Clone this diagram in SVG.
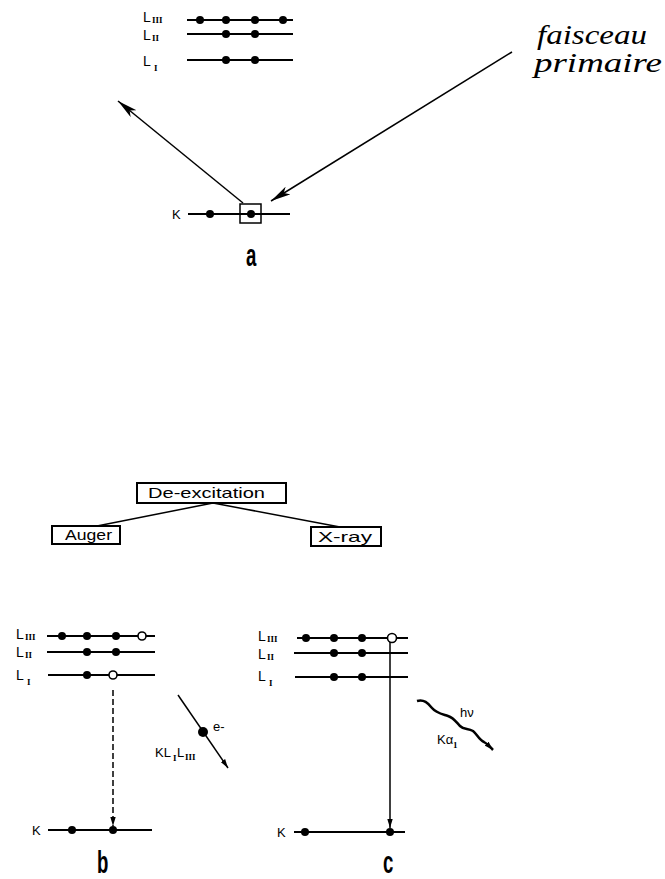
<svg xmlns="http://www.w3.org/2000/svg" width="665" height="879" viewBox="0 0 665 879">
<style>
.lv{stroke:#000;stroke-width:2;fill:none}
.dot{fill:#000}
.hole{fill:#fff;stroke:#000;stroke-width:1.6}
.lbl{font-family:"Liberation Sans",Arial,sans-serif;font-size:13px;fill:#000}
.L{font-family:"Liberation Sans",Arial,sans-serif;font-size:14px;fill:#000}
.sub{font-family:"Liberation Serif",serif;font-size:9px;fill:#000;font-weight:bold}
.big{font-family:"Liberation Sans",Arial,sans-serif;font-weight:bold;font-size:31px;fill:#000}
.box{fill:#fff;stroke:#000;stroke-width:2}
.btxt{font-family:"Liberation Sans",Arial,sans-serif;font-size:15px;fill:#000}
.hand{font-family:"Liberation Serif",serif;font-style:italic;font-size:28px;fill:#000}
.ln{stroke:#000;stroke-width:1.5;fill:none}
</style>
<defs>
<marker id="ah" viewBox="0 0 20 9" refX="20" refY="4.5" markerWidth="20" markerHeight="9" markerUnits="userSpaceOnUse" orient="auto">
<path d="M0,0 L20,4.5 L0,9 L5,4.5 Z" fill="#000"/>
</marker>
<marker id="as" viewBox="0 0 10 6" refX="10" refY="3" markerWidth="9" markerHeight="6" markerUnits="userSpaceOnUse" orient="auto">
<path d="M0,0 L10,3 L0,6 Z" fill="#000"/>
</marker>
</defs>

<g id="panel-a-levels">
<text class="L" x="143" y="22">L</text><text class="sub" x="152" y="23">III</text>
<text class="L" x="143" y="40">L</text><text class="sub" x="152" y="41">II</text>
<text class="L" x="143" y="66">L</text><text class="sub" x="154" y="71">I</text>
<line class="lv" x1="187" y1="20" x2="293" y2="20"/>
<circle class="dot" cx="200" cy="20" r="4"/><circle class="dot" cx="226" cy="20" r="4"/><circle class="dot" cx="255" cy="20" r="4"/><circle class="dot" cx="283" cy="20" r="4"/>
<line class="lv" x1="187" y1="34" x2="293" y2="34"/>
<circle class="dot" cx="226" cy="34" r="4"/><circle class="dot" cx="255" cy="34" r="4"/>
<line class="lv" x1="187" y1="60" x2="293" y2="60"/>
<circle class="dot" cx="226" cy="60" r="4"/><circle class="dot" cx="255" cy="60" r="4"/>
</g>

<g id="panel-a-k">
<text class="lbl" x="172" y="219">K</text>
<line class="lv" x1="188" y1="214" x2="290" y2="214"/>
<circle class="dot" cx="210" cy="214" r="4"/>
<rect x="240" y="204" width="21" height="19" fill="#fff" stroke="#000" stroke-width="1.5"/>
<line class="lv" x1="240" y1="214" x2="261" y2="214"/>
<circle class="dot" cx="251" cy="214" r="4"/>
<text class="big" transform="translate(246,266) scale(0.6,1)">a</text>
</g>

<g id="faisceau">
<text class="hand" x="537" y="44" textLength="110" lengthAdjust="spacingAndGlyphs">faisceau</text>
<text class="hand" x="534" y="72" textLength="128" lengthAdjust="spacingAndGlyphs">primaire</text>
</g>

<g id="deexc"><rect class="box" x="137" y="483" width="149" height="20"/><text class="btxt" x="148" y="498" textLength="117" lengthAdjust="spacingAndGlyphs">De-excitation</text></g>
<g id="auger"><rect class="box" x="52" y="526" width="68" height="18"/><text class="btxt" x="65" y="540" textLength="47" lengthAdjust="spacingAndGlyphs">Auger</text></g>
<g id="xray"><rect class="box" x="311" y="527" width="70" height="19"/><text class="btxt" x="318" y="542" textLength="54" lengthAdjust="spacingAndGlyphs">X-ray</text></g>

<g id="panel-b">
<text class="L" x="16" y="639">L</text><text class="sub" x="25" y="640">III</text>
<text class="L" x="16" y="657">L</text><text class="sub" x="25" y="658">II</text>
<text class="L" x="16" y="680">L</text><text class="sub" x="27" y="685">I</text>
<line class="lv" x1="47" y1="636" x2="155" y2="636"/>
<circle class="dot" cx="62" cy="636" r="4"/><circle class="dot" cx="87" cy="636" r="4"/><circle class="dot" cx="116" cy="636" r="4"/><circle class="hole" cx="142" cy="636" r="4"/>
<line class="lv" x1="47" y1="652" x2="155" y2="652"/>
<circle class="dot" cx="87" cy="652" r="4"/><circle class="dot" cx="116" cy="652" r="4"/>
<line class="lv" x1="48" y1="675" x2="155" y2="675"/>
<circle class="dot" cx="87" cy="675" r="4"/><circle class="hole" cx="113" cy="675" r="4"/>
<text class="lbl" x="32" y="835">K</text>
<line class="lv" x1="48" y1="830" x2="152" y2="830"/>
<circle class="dot" cx="72" cy="830" r="4"/><circle class="dot" cx="113" cy="830" r="4"/>
<circle class="dot" cx="203" cy="732" r="5"/>
<text class="lbl" x="213" y="731">e-</text>
<text class="lbl" x="155" y="757">KL</text><text class="sub" x="173" y="761">I</text><text class="lbl" x="177" y="757">L</text><text class="sub" x="185" y="760">III</text>
<text class="big" transform="translate(97,873) scale(0.6,1)">b</text>
</g>

<g id="panel-c">
<text class="L" x="258" y="641">L</text><text class="sub" x="267" y="642">III</text>
<text class="L" x="258" y="659">L</text><text class="sub" x="267" y="660">II</text>
<text class="L" x="258" y="681">L</text><text class="sub" x="269" y="686">I</text>
<line class="lv" x1="297" y1="638" x2="408" y2="638"/>
<circle class="dot" cx="306" cy="638" r="4"/><circle class="dot" cx="334" cy="638" r="4"/><circle class="dot" cx="362" cy="638" r="4"/>
<line class="lv" x1="294" y1="653" x2="408" y2="653"/>
<circle class="dot" cx="334" cy="653" r="4"/><circle class="dot" cx="362" cy="653" r="4"/>
<line class="lv" x1="295" y1="677" x2="408" y2="677"/>
<circle class="dot" cx="334" cy="677" r="4"/><circle class="dot" cx="362" cy="677" r="4"/>
<text class="lbl" x="277" y="837">K</text>
<line class="lv" x1="294" y1="832" x2="405" y2="832"/>
<circle class="dot" cx="305" cy="832" r="4"/><circle class="dot" cx="390" cy="832" r="4"/>
<text class="lbl" x="460" y="717">h&#957;</text>
<text class="lbl" x="437" y="744">K&#945;</text><text class="sub" x="453" y="748">1</text>
<text class="big" transform="translate(383,873) scale(0.6,1)">c</text>
</g>

<g id="connectors">
<line class="ln" x1="243" y1="203" x2="118" y2="101" marker-end="url(#ah)"/>
<line class="ln" x1="512" y1="52" x2="271" y2="201" marker-end="url(#ah)"/>
<line class="ln" x1="213" y1="503" x2="97" y2="526"/>
<line class="ln" x1="213" y1="503" x2="340" y2="527"/>
<line class="ln" x1="113" y1="690" x2="113" y2="826" stroke-dasharray="6,3" marker-end="url(#as)"/>
<line class="ln" x1="178" y1="695" x2="228" y2="768" marker-end="url(#as)"/>
<line class="ln" x1="390" y1="642" x2="390" y2="828" marker-end="url(#as)"/>
<path d="M417,701 C424,699 428,703 432,708 C436,713 442,714 448,716 C454,718 456,722 460,726 C464,730 468,728 473,731 C477,734 479,740 484,742 C488,744 490,747 493,750" stroke="#000" stroke-width="2.5" fill="none" marker-end="url(#as)"/>
<circle class="hole" cx="392" cy="638" r="4.5"/>
</g>
</svg>
